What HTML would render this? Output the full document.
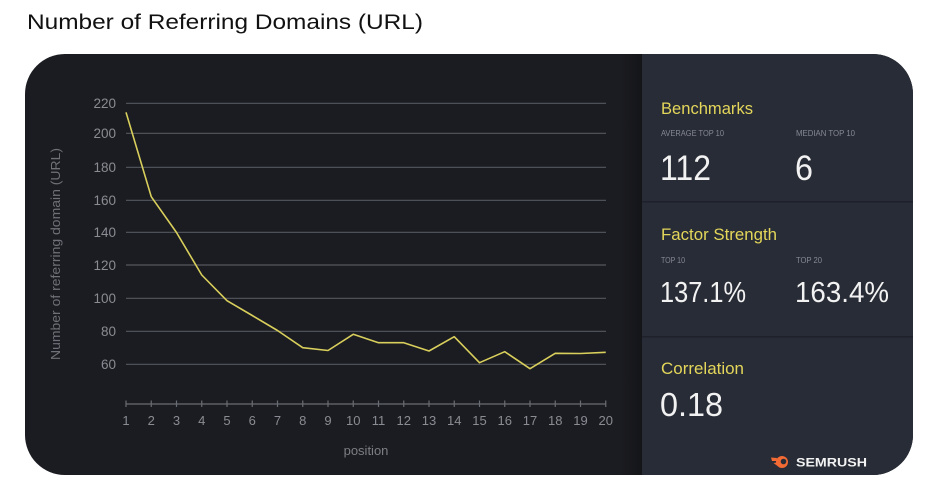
<!DOCTYPE html>
<html>
<head>
<meta charset="utf-8">
<style>
  html,body{margin:0;padding:0;background:#ffffff;}
  svg{display:block;}
  text{font-family:"Liberation Sans", sans-serif;}
</style>
</head>
<body>
<svg width="936" height="499" viewBox="0 0 936 499" xmlns="http://www.w3.org/2000/svg">
  <defs>
    <clipPath id="card">
      <rect x="25" y="54" width="888" height="421" rx="40" ry="40"/>
    </clipPath>
    <linearGradient id="strip" x1="0" x2="1" y1="0" y2="0">
      <stop offset="0" stop-color="#1b1c21"/>
      <stop offset="1" stop-color="#141519"/>
    </linearGradient>
  </defs>

  <!-- Title -->
  <text x="27" y="29" font-size="21.5" fill="#111111" textLength="396" lengthAdjust="spacingAndGlyphs">Number of Referring Domains (URL)</text>

  <!-- Card -->
  <g clip-path="url(#card)">
    <rect x="25" y="54" width="888" height="421" fill="#1b1c21"/>
    <rect x="620" y="54" width="22" height="421" fill="url(#strip)"/>
    <rect x="642" y="54" width="271" height="421" fill="#282c36"/>
    <rect x="642" y="201" width="271" height="1.5" fill="#1e2129"/>
    <rect x="642" y="336" width="271" height="1.5" fill="#1e2129"/>
  </g>

  <!-- Gridlines -->
  <g stroke="#55575e" stroke-width="1.2">
    <line x1="126" y1="103.3" x2="606" y2="103.3"/>
    <line x1="126" y1="133.3" x2="606" y2="133.3"/>
    <line x1="126" y1="167.3" x2="606" y2="167.3"/>
    <line x1="126" y1="200.3" x2="606" y2="200.3"/>
    <line x1="126" y1="232.3" x2="606" y2="232.3"/>
    <line x1="126" y1="265" x2="606" y2="265"/>
    <line x1="126" y1="298.3" x2="606" y2="298.3"/>
    <line x1="126" y1="331.3" x2="606" y2="331.3"/>
    <line x1="126" y1="364.3" x2="606" y2="364.3"/>
  </g>

  <!-- Y labels -->
  <g font-size="13.5" fill="#8a8c93" text-anchor="end">
    <text x="116" y="108">220</text>
    <text x="116" y="138">200</text>
    <text x="116" y="172">180</text>
    <text x="116" y="205">160</text>
    <text x="116" y="237">140</text>
    <text x="116" y="270">120</text>
    <text x="116" y="303">100</text>
    <text x="116" y="336">80</text>
    <text x="116" y="369">60</text>
  </g>

  <!-- Y axis title -->
  <text transform="translate(60,254) rotate(-90)" font-size="13" fill="#6f7178" text-anchor="middle" textLength="212" lengthAdjust="spacingAndGlyphs">Number of referring domain (URL)</text>

  <!-- X axis -->
  <g stroke="#6a6c73" stroke-width="1.2">
    <line x1="126" y1="404" x2="606" y2="404"/>
    <line x1="126" y1="400.5" x2="126" y2="407"/>
    <line x1="151.25" y1="400.5" x2="151.25" y2="407"/>
    <line x1="176.5" y1="400.5" x2="176.5" y2="407"/>
    <line x1="201.75" y1="400.5" x2="201.75" y2="407"/>
    <line x1="227" y1="400.5" x2="227" y2="407"/>
    <line x1="252.25" y1="400.5" x2="252.25" y2="407"/>
    <line x1="277.5" y1="400.5" x2="277.5" y2="407"/>
    <line x1="302.75" y1="400.5" x2="302.75" y2="407"/>
    <line x1="328" y1="400.5" x2="328" y2="407"/>
    <line x1="353.25" y1="400.5" x2="353.25" y2="407"/>
    <line x1="378.5" y1="400.5" x2="378.5" y2="407"/>
    <line x1="403.75" y1="400.5" x2="403.75" y2="407"/>
    <line x1="429" y1="400.5" x2="429" y2="407"/>
    <line x1="454.25" y1="400.5" x2="454.25" y2="407"/>
    <line x1="479.5" y1="400.5" x2="479.5" y2="407"/>
    <line x1="504.75" y1="400.5" x2="504.75" y2="407"/>
    <line x1="530" y1="400.5" x2="530" y2="407"/>
    <line x1="555.25" y1="400.5" x2="555.25" y2="407"/>
    <line x1="580.5" y1="400.5" x2="580.5" y2="407"/>
    <line x1="605.75" y1="400.5" x2="605.75" y2="407"/>
  </g>
  <g font-size="13" fill="#8a8c93" text-anchor="middle">
    <text x="126" y="425">1</text>
    <text x="151.25" y="425">2</text>
    <text x="176.5" y="425">3</text>
    <text x="201.75" y="425">4</text>
    <text x="227" y="425">5</text>
    <text x="252.25" y="425">6</text>
    <text x="277.5" y="425">7</text>
    <text x="302.75" y="425">8</text>
    <text x="328" y="425">9</text>
    <text x="353.25" y="425">10</text>
    <text x="378.5" y="425">11</text>
    <text x="403.75" y="425">12</text>
    <text x="429" y="425">13</text>
    <text x="454.25" y="425">14</text>
    <text x="479.5" y="425">15</text>
    <text x="504.75" y="425">16</text>
    <text x="530" y="425">17</text>
    <text x="555.25" y="425">18</text>
    <text x="580.5" y="425">19</text>
    <text x="605.75" y="425">20</text>
  </g>
  <text x="366" y="455" font-size="13" fill="#7c7e85" text-anchor="middle">position</text>

  <!-- Series -->
  <polyline fill="none" stroke="#d9cf5c" stroke-width="1.6" stroke-linejoin="round"
    points="126,112.3 151.25,196.7 176.5,232.5 201.75,275 227,300.7 252.25,315.5 277.5,330.5 302.75,347.7 328,350.5 353.25,334.3 378.5,342.7 403.75,342.7 429,351 454.25,336.7 479.5,362.7 504.75,351.7 530,368.7 555.25,353.3 580.5,353.5 605.75,352.3"/>

  <!-- Right panel text -->
  <text x="661" y="114" font-size="16.5" fill="#e3d65a" textLength="92" lengthAdjust="spacingAndGlyphs">Benchmarks</text>
  <text x="661" y="136" font-size="8" fill="#868993" textLength="63" lengthAdjust="spacingAndGlyphs">AVERAGE TOP 10</text>
  <text x="796" y="136" font-size="8" fill="#868993" textLength="59" lengthAdjust="spacingAndGlyphs">MEDIAN TOP 10</text>
  <text x="660" y="180" font-size="35" fill="#f2f2f2" textLength="51" lengthAdjust="spacingAndGlyphs">112</text>
  <text x="795" y="180" font-size="35" fill="#f2f2f2" textLength="18" lengthAdjust="spacingAndGlyphs">6</text>

  <text x="661" y="240" font-size="16.5" fill="#e3d65a" textLength="116" lengthAdjust="spacingAndGlyphs">Factor Strength</text>
  <text x="661" y="263" font-size="8" fill="#868993" textLength="24" lengthAdjust="spacingAndGlyphs">TOP 10</text>
  <text x="796" y="263" font-size="8" fill="#868993" textLength="26" lengthAdjust="spacingAndGlyphs">TOP 20</text>
  <text x="660" y="302" font-size="29" fill="#f2f2f2" textLength="86" lengthAdjust="spacingAndGlyphs">137.1%</text>
  <text x="795" y="302" font-size="29" fill="#f2f2f2" textLength="94" lengthAdjust="spacingAndGlyphs">163.4%</text>

  <text x="661" y="374" font-size="16.5" fill="#e3d65a" textLength="83" lengthAdjust="spacingAndGlyphs">Correlation</text>
  <text x="660" y="416" font-size="33" fill="#f2f2f2" textLength="63" lengthAdjust="spacingAndGlyphs">0.18</text>

  <!-- Semrush logo -->
  <g>
    <circle cx="782" cy="462" r="6" fill="#f26a34"/>
    <circle cx="783.5" cy="461.5" r="2.8" fill="#282c36"/>
    <path d="M771,457.5 L777,458 L776.5,461 L772,461 Z" fill="#f26a34"/>
    <path d="M773.5,463 L777,462.5 L777.5,466 Z" fill="#f26a34"/>
    <text x="796" y="466.5" font-size="11.5" font-weight="bold" fill="#f2f2f2" textLength="71" lengthAdjust="spacingAndGlyphs">SEMRUSH</text>
  </g>
</svg>
</body>
</html>
